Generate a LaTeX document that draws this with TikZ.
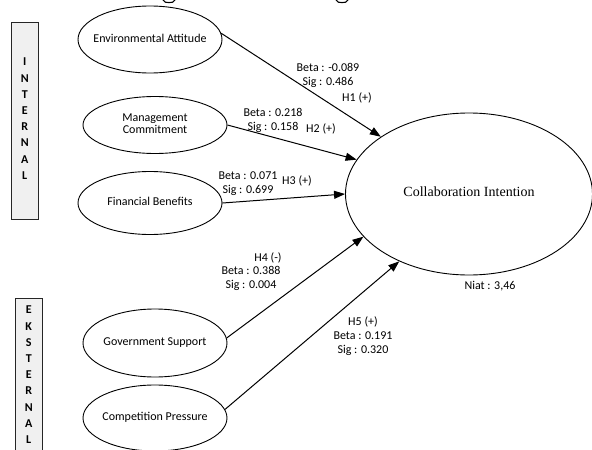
\documentclass[tikz,border=0pt]{standalone}
\usepackage{fontspec}
\setmainfont{Carlito}
\newfontfamily\serifface{Liberation Serif}
\usetikzlibrary{shapes.geometric,arrows.meta}
\newcommand\ctext[1]{\makebox[0pt]{\begin{tabular}{@{}c@{}}#1\end{tabular}}}
\begin{document}
\begin{tikzpicture}[x=1pt,y=-1pt,
  construct/.style={ellipse,draw,line width=0.9pt,inner sep=0pt,
    font=\fontsize{12}{12.5}\selectfont},
  path/.style={line width=1pt,-{Triangle[length=11pt,width=8pt]}},
  stat/.style={font=\fontsize{12}{14}\selectfont,inner sep=0pt,align=center},
  groupbox/.style={draw=black!85,fill=black!6,line width=0.9pt},
  grouptext/.style={font=\fontsize{12}{16.2}\selectfont\bfseries,align=center,inner sep=0pt,anchor=north}]
\useasboundingbox (0,0) rectangle (592,450);

% descenders of the heading above the frame
\draw[line width=1.1pt] (163,0) to[out=-70,in=180] (169,2.6) to[out=0,in=-110] (175,0);
\draw[line width=1.1pt] (336,0) to[out=-70,in=180] (342,2.6) to[out=0,in=-110] (348,0);

% group labels
\draw[groupbox] (11,22) rectangle (38.5,219);
\node[grouptext] (internal) at (24.75,58) {I\\N\\T\\E\\R\\N\\A\\L};
\draw[groupbox] (15,298) rectangle (42.5,456);
\node[grouptext] (eksternal) at (28.75,306) {E\\K\\S\\T\\E\\R\\N\\A\\L};

% constructs
\node[construct,minimum width=144pt,minimum height=67pt] (ea) at (150,39.5) {\ctext{Environmental Attitude}};
\node[construct,minimum width=144pt,minimum height=57pt] (mc) at (155,125) {\ctext{Management\\[-1pt]Commitment}};
\node[construct,minimum width=144pt,minimum height=63pt] (fb) at (150,203) {\ctext{Financial Benefits}};
\node[construct,minimum width=144pt,minimum height=68pt] (gs) at (155,343) {\ctext{Government Support}};
\node[construct,minimum width=144pt,minimum height=66pt] (cp) at (155,418) {\ctext{Competition Pressure}};
\node[construct,minimum width=247pt,minimum height=162pt] (ci) at (469,194)
  {\ctext{\serifface\fontsize{14}{15}\selectfont Collaboration Intention}};

% hypothesised paths
\draw[path] (ea.5) -- (ci.147);
\draw[path] (mc.0) -- (ci.163);
\draw[path] (fb.0) -- (ci.180);
\draw[path] (gs.4) -- (ci.202);
\draw[path] (cp.7) -- (ci.224);

% path statistics
\node[stat] (s1) at (328,75) {Beta : -0.089\\Sig : 0.486};
\node[stat] (h1) at (357,98) {H1 (+)};
\node[stat] (s2) at (273,120) {Beta : 0.218\\Sig : 0.158};
\node[stat] (h2) at (321,129) {H2 (+)};
\node[stat] (s3) at (248,184) {Beta : 0.071\\Sig : 0.699};
\node[stat] (h3) at (297,181) {H3 (+)};
\node[stat] (h4) at (268,258) {H4 (-)};
\node[stat] (s4) at (251,278.5) {Beta : 0.388\\Sig : 0.004};
\node[stat] (s5) at (363,336) {H5 (+)\\Beta : 0.191\\Sig : 0.320};
\node[stat] (niat) at (490,286) {Niat : 3,46};
\end{tikzpicture}
\end{document}
